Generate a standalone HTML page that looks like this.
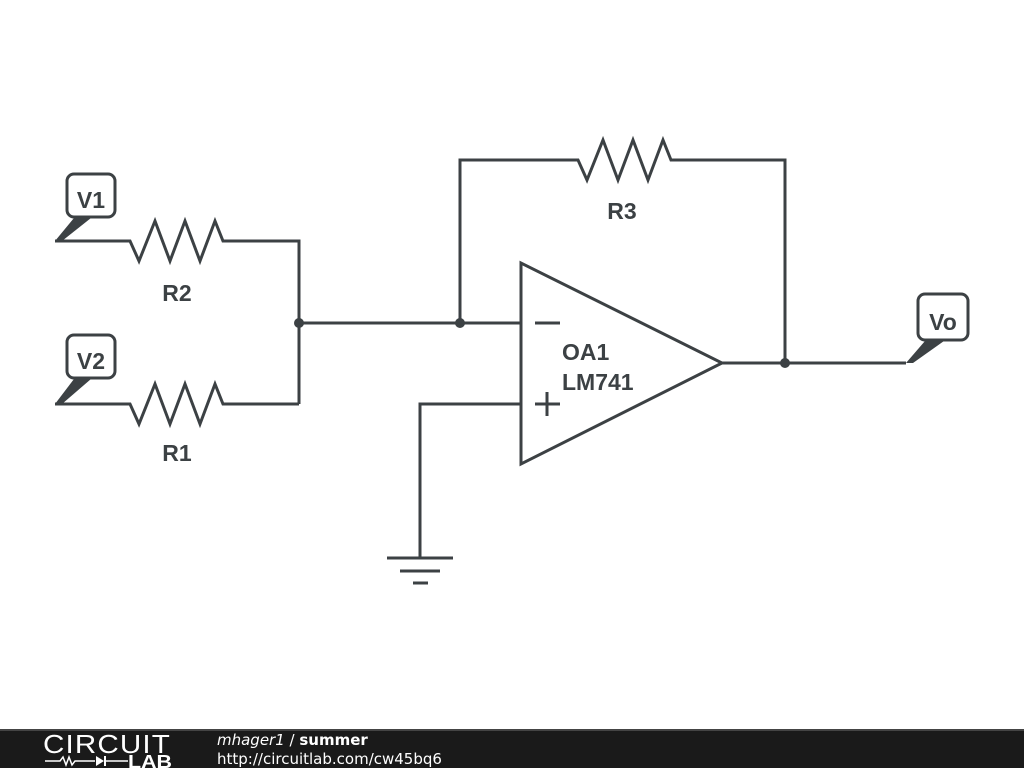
<!DOCTYPE html>
<html><head><style>
body{margin:0;width:1024px;height:768px;background:#fff;overflow:hidden}
svg{position:absolute;left:0;top:0}
</style></head><body>
<svg width="1024" height="768" viewBox="0 0 1024 768">
<g fill="none" stroke="#3c4144" stroke-width="3" stroke-linejoin="miter">
<polyline points="55,241 130,241 139,261 155,221 170,261 185,221 200,261 215,221 223,241 299,241 299,404"/>
<polyline points="55,404 130,404 139,424 155,384 170,424 185,384 200,424 215,384 223,404 299,404"/>
<line x1="299" y1="323" x2="521" y2="323"/>
<polyline points="460,323 460,160 578,160 587,180 603,140 618,180 633,140 648,180 663,140 671,160 785,160 785,363"/>
<polygon points="521,263 521,464 722,363"/>
<line x1="722" y1="363" x2="906" y2="363"/>
<line x1="535" y1="323" x2="560" y2="323"/>
<line x1="535" y1="404" x2="560" y2="404"/>
<line x1="547" y1="392" x2="547" y2="416"/>
<polyline points="521,404 420,404 420,558"/>
<line x1="387" y1="558" x2="453" y2="558"/>
<line x1="400" y1="571" x2="440" y2="571"/>
<line x1="413" y1="583" x2="428" y2="583"/>
<rect x="67" y="174" width="48" height="43" rx="7"/>
<rect x="67" y="335" width="48" height="43" rx="7"/>
<rect x="918" y="294" width="50" height="46" rx="7"/>
</g>
<g fill="#3c4144" stroke="none">
<circle cx="299" cy="323" r="5"/>
<circle cx="460" cy="323" r="5"/>
<circle cx="785" cy="363" r="5"/>
<polygon points="55,241 74,218 91,218 62,241"/>
<polygon points="55,404 74,379 91,379 62,404"/>
<polygon points="906,363 925,341 944,341 913,363"/>
</g>
<g font-family="Liberation Sans, sans-serif" font-weight="bold" font-size="23" fill="#3c4144">
<text x="91" y="208" text-anchor="middle">V1</text>
<text x="91" y="369" text-anchor="middle">V2</text>
<text x="943" y="330" text-anchor="middle">Vo</text>
<text x="177" y="301" text-anchor="middle">R2</text>
<text x="177" y="461" text-anchor="middle">R1</text>
<text x="622" y="219" text-anchor="middle">R3</text>
<text x="562" y="360">OA1</text>
<text x="562" y="390">LM741</text>
</g>
<rect x="0" y="729" width="1024" height="39" fill="#1a1a1a"/>
<rect x="0" y="729" width="1024" height="2" fill="#444"/>
<text x="43" y="753" font-family="Liberation Sans, sans-serif" font-size="26" fill="#fff" letter-spacing="1" textLength="128" lengthAdjust="spacingAndGlyphs">CIRCUIT</text>
<polyline points="45,761 60,761 63,757 66,765 69,757 72,765 75,761 95,761" fill="none" stroke="#fff" stroke-width="1.5"/>
<polygon points="96,756 96,766 104,761" fill="#fff"/>
<line x1="105" y1="756" x2="105" y2="766" stroke="#fff" stroke-width="2"/>
<line x1="105" y1="761" x2="128" y2="761" stroke="#fff" stroke-width="1.5"/>
<text x="128" y="768" font-family="Liberation Sans, sans-serif" font-weight="bold" font-size="18" fill="#fff" textLength="44" lengthAdjust="spacingAndGlyphs">LAB</text>
<text x="217" y="745" font-family="DejaVu Sans, sans-serif" font-size="15" fill="#fff"><tspan font-style="italic">mhager1</tspan> / <tspan font-weight="bold">summer</tspan></text>
<text x="217" y="764" font-family="DejaVu Sans, sans-serif" font-size="15" fill="#fff">http://circuitlab.com/cw45bq6</text>
</svg>
</body></html>
